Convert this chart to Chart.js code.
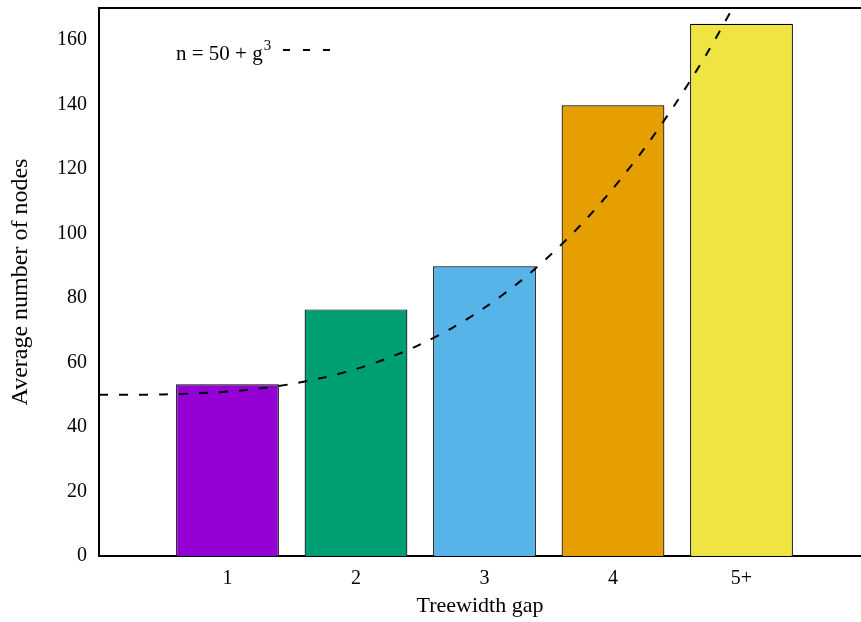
<!DOCTYPE html>
<html>
<head>
<meta charset="utf-8">
<script src="https://cdn.jsdelivr.net/npm/chart.js@4.4.0/dist/chart.umd.min.js"></script>
<style>
  body { margin: 0; background: #fff; }
  canvas { display: block; }
</style>
</head>
<body>
<canvas id="chart" width="861" height="622"></canvas>
<script>
// valores
const gapPositions = [1, 2, 3, 4, 5];
const gapLabels = ['1', '2', '3', '4', '5+'];
const avgNodes = [53.3, 76.5, 89.9, 139.8, 165.1];
const barColors = ['#9400D3', '#009E73', '#56B4E9', '#E69F00', '#F0E442'];

// curva tracejada n = 50 + g^3 (pontos lidos)
const curveG = [0, 0.25, 0.5, 0.75, 1, 1.25, 1.5, 1.75, 2, 2.25, 2.5, 2.75, 3, 3.25, 3.5, 3.75, 4, 4.25, 4.5, 4.75, 5];
const curveN = [50, 50.02, 50.13, 50.42, 51, 51.95, 53.38, 55.36, 58, 61.39, 65.63, 70.8, 77, 84.33, 92.88, 102.73, 114, 126.77, 141.13, 157.17, 175];

const yTicks = [0, 20, 40, 60, 80, 100, 120, 140, 160];

const FONT = "'Liberation Serif', 'Times New Roman', serif";

// legenda desenhada a mao: texto antes da linha tracejada
const legendPlugin = {
  id: 'customLegend',
  afterDraw(chart) {
    const ctx = chart.ctx;
    const area = chart.chartArea;
    ctx.save();
    // linha superior do quadro
    ctx.strokeStyle = '#000';
    ctx.lineWidth = 2;
    ctx.beginPath();
    ctx.moveTo(area.left, area.top);
    ctx.lineTo(chart.width, area.top);
    ctx.stroke();

    ctx.fillStyle = '#000';
    ctx.textBaseline = 'alphabetic';
    ctx.textAlign = 'left';
    ctx.font = '21px ' + FONT;
    const main = 'n = 50 + g';
    const x0 = 176, base = 60;
    ctx.fillText(main, x0, base);
    const w = ctx.measureText(main).width;
    ctx.font = '15px ' + FONT;
    ctx.fillText('3', x0 + w + 1, base - 10);

    ctx.setLineDash([7, 13]);
    ctx.lineWidth = 2;
    ctx.beginPath();
    ctx.moveTo(283, 50);
    ctx.lineTo(333, 50);
    ctx.stroke();
    ctx.restore();
  }
};

new Chart(document.getElementById('chart').getContext('2d'), {
  data: {
    datasets: [
      {
        type: 'line',
        label: 'n = 50 + g^3',
        data: curveG.map((g, i) => ({ x: g, y: curveN[i] })),
        borderColor: '#000',
        borderWidth: 2,
        borderDash: [9, 11],
        pointRadius: 0,
        tension: 0.3,
        order: 0
      },
      {
        type: 'bar',
        label: 'Average number of nodes',
        data: gapPositions.map((g, i) => ({ x: g, y: avgNodes[i] })),
        backgroundColor: barColors,
        borderColor: '#000',
        borderWidth: 1.2,
        barPercentage: 0.8,
        categoryPercentage: 1.0,
        order: 1
      }
    ]
  },
  options: {
    responsive: false,
    animation: false,
    layout: { padding: { top: 8, right: 0, left: 0, bottom: 0 } },
    plugins: {
      legend: { display: false },
      tooltip: { enabled: false }
    },
    scales: {
      x: {
        type: 'linear',
        min: 0,
        max: 5.93,
        offset: false,
        grid: { display: false, drawTicks: false, offset: false },
        border: { display: true, color: '#000', width: 2 },
        afterBuildTicks: function(scale) {
          scale.ticks = gapPositions.map(v => ({ value: v }));
        },
        afterFit: function(scale) {
          scale.height = 66;
          scale.paddingLeft = 0;
          scale.paddingRight = 0;
        },
        ticks: {
          color: '#000',
          padding: 11,
          maxRotation: 0,
          font: { family: FONT, size: 20 },
          callback: function(value) {
            const i = gapPositions.indexOf(value);
            return i >= 0 ? gapLabels[i] : '';
          }
        },
        title: {
          display: true,
          text: 'Treewidth gap',
          color: '#000',
          font: { family: FONT, size: 22 },
          padding: { top: 0, bottom: 3 }
        }
      },
      y: {
        min: 0,
        max: 170,
        grid: { display: false, drawTicks: false },
        border: { display: true, color: '#000', width: 2 },
        afterBuildTicks: function(scale) {
          scale.ticks = yTicks.map(v => ({ value: v }));
        },
        afterFit: function(scale) {
          scale.width = 99;
          scale.paddingTop = 0;
          scale.paddingBottom = 0;
        },
        ticks: {
          color: '#000',
          padding: 12,
          font: { family: FONT, size: 20 }
        },
        title: {
          display: true,
          text: 'Average number of nodes',
          color: '#000',
          font: { family: FONT, size: 24 },
          padding: { top: 6, bottom: 0 }
        }
      }
    }
  },
  plugins: [legendPlugin]
});
</script>
</body>
</html>
